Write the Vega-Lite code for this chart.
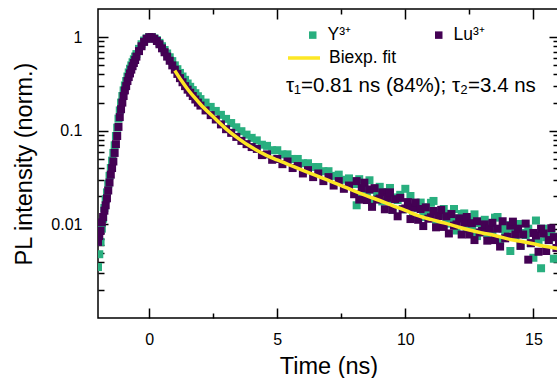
{
"$schema": "https://vega.github.io/schema/vega-lite/v6.json",
"width": 461,
"height": 309,
"padding": {"left": 12, "top": 8, "right": 0, "bottom": 0},
"background": "white",
"datasets": {
"pts": [
{"t":-2,"s":"Y³⁺","v":0.0035},{"t":-1.95,"s":"Y³⁺","v":0.0048},{"t":-1.9,"s":"Y³⁺","v":0.0065},{"t":-1.85,"s":"Y³⁺","v":0.009},{"t":-1.8,"s":"Y³⁺","v":0.0115},{"t":-1.75,"s":"Y³⁺","v":0.015},{"t":-1.7,"s":"Y³⁺","v":0.0185},{"t":-1.65,"s":"Y³⁺","v":0.022},{"t":-1.6,"s":"Y³⁺","v":0.027},{"t":-1.55,"s":"Y³⁺","v":0.033},{"t":-1.5,"s":"Y³⁺","v":0.04},{"t":-1.45,"s":"Y³⁺","v":0.048},{"t":-1.4,"s":"Y³⁺","v":0.058},{"t":-1.35,"s":"Y³⁺","v":0.07},{"t":-1.3,"s":"Y³⁺","v":0.088},{"t":-1.25,"s":"Y³⁺","v":0.108},{"t":-1.2,"s":"Y³⁺","v":0.135},{"t":-1.15,"s":"Y³⁺","v":0.165},{"t":-1.1,"s":"Y³⁺","v":0.2},{"t":-1.05,"s":"Y³⁺","v":0.235},{"t":-1,"s":"Y³⁺","v":0.27},{"t":-0.95,"s":"Y³⁺","v":0.305},{"t":-0.9,"s":"Y³⁺","v":0.34},{"t":-0.85,"s":"Y³⁺","v":0.38},{"t":-0.8,"s":"Y³⁺","v":0.42},{"t":-0.75,"s":"Y³⁺","v":0.46},{"t":-0.7,"s":"Y³⁺","v":0.5},{"t":-0.65,"s":"Y³⁺","v":0.54},{"t":-0.6,"s":"Y³⁺","v":0.58},{"t":-0.55,"s":"Y³⁺","v":0.62},{"t":-0.5,"s":"Y³⁺","v":0.66},
{"t":-0.4,"s":"Y³⁺","v":0.75},{"t":-0.3,"s":"Y³⁺","v":0.84},{"t":-0.2,"s":"Y³⁺","v":0.92},{"t":-0.1,"s":"Y³⁺","v":0.97},{"t":0,"s":"Y³⁺","v":1},{"t":0.1,"s":"Y³⁺","v":1},{"t":0.2,"s":"Y³⁺","v":0.97},{"t":0.3,"s":"Y³⁺","v":0.93},{"t":0.4,"s":"Y³⁺","v":0.87},{"t":0.5,"s":"Y³⁺","v":0.8},{"t":0.6,"s":"Y³⁺","v":0.73},{"t":0.7,"s":"Y³⁺","v":0.67},{"t":0.8,"s":"Y³⁺","v":0.61},{"t":0.9,"s":"Y³⁺","v":0.555},{"t":1,"s":"Y³⁺","v":0.5},{"t":1.1,"s":"Y³⁺","v":0.455},{"t":1.2,"s":"Y³⁺","v":0.415},{"t":1.3,"s":"Y³⁺","v":0.38},{"t":1.4,"s":"Y³⁺","v":0.35},{"t":1.5,"s":"Y³⁺","v":0.32},{"t":1.6,"s":"Y³⁺","v":0.295},{"t":1.7,"s":"Y³⁺","v":0.272},{"t":1.8,"s":"Y³⁺","v":0.252},{"t":1.9,"s":"Y³⁺","v":0.234},{"t":2,"s":"Y³⁺","v":0.218},
{"t":2.2,"s":"Y³⁺","v":0.2},{"t":2.4,"s":"Y³⁺","v":0.18},{"t":2.6,"s":"Y³⁺","v":0.163},{"t":2.8,"s":"Y³⁺","v":0.148},{"t":3,"s":"Y³⁺","v":0.134},{"t":3.2,"s":"Y³⁺","v":0.121},{"t":3.4,"s":"Y³⁺","v":0.109},{"t":3.6,"s":"Y³⁺","v":0.099},{"t":3.8,"s":"Y³⁺","v":0.091},{"t":4,"s":"Y³⁺","v":0.084},{"t":4.2,"s":"Y³⁺","v":0.079},{"t":4.4,"s":"Y³⁺","v":0.071},{"t":4.6,"s":"Y³⁺","v":0.069},{"t":4.8,"s":"Y³⁺","v":0.062},{"t":5,"s":"Y³⁺","v":0.062},{"t":5.2,"s":"Y³⁺","v":0.056},{"t":5.4,"s":"Y³⁺","v":0.056},{"t":5.6,"s":"Y³⁺","v":0.05},{"t":5.8,"s":"Y³⁺","v":0.05},{"t":6,"s":"Y³⁺","v":0.045},{"t":6.2,"s":"Y³⁺","v":0.045},{"t":6.4,"s":"Y³⁺","v":0.041},{"t":6.6,"s":"Y³⁺","v":0.041},{"t":6.8,"s":"Y³⁺","v":0.037},{"t":7,"s":"Y³⁺","v":0.037},{"t":7.2,"s":"Y³⁺","v":0.033},{"t":7.4,"s":"Y³⁺","v":0.034},{"t":7.6,"s":"Y³⁺","v":0.03},{"t":7.8,"s":"Y³⁺","v":0.031},{"t":8,"s":"Y³⁺","v":0.027},
{"t":8.1,"s":"Y³⁺","v":0.016},{"t":8.2,"s":"Y³⁺","v":0.0304},{"t":8.3,"s":"Y³⁺","v":0.0212},{"t":8.4,"s":"Y³⁺","v":0.0269},{"t":8.5,"s":"Y³⁺","v":0.0222},{"t":8.6,"s":"Y³⁺","v":0.0296},{"t":8.7,"s":"Y³⁺","v":0.0173},{"t":8.8,"s":"Y³⁺","v":0.0235},{"t":8.9,"s":"Y³⁺","v":0.0221},{"t":9,"s":"Y³⁺","v":0.0252},{"t":9.1,"s":"Y³⁺","v":0.0176},{"t":9.2,"s":"Y³⁺","v":0.0222},{"t":9.3,"s":"Y³⁺","v":0.0184},{"t":9.4,"s":"Y³⁺","v":0.0245},{"t":9.5,"s":"Y³⁺","v":0.0143},{"t":9.6,"s":"Y³⁺","v":0.0194},{"t":9.7,"s":"Y³⁺","v":0.0182},{"t":9.8,"s":"Y³⁺","v":0.0207},{"t":9.9,"s":"Y³⁺","v":0.0145},{"t":10,"s":"Y³⁺","v":0.024},
{"t":10.1,"s":"Y³⁺","v":0.0152},{"t":10.2,"s":"Y³⁺","v":0.0201},{"t":10.3,"s":"Y³⁺","v":0.0118},{"t":10.4,"s":"Y³⁺","v":0.0159},{"t":10.5,"s":"Y³⁺","v":0.0149},{"t":10.6,"s":"Y³⁺","v":0.0171},{"t":10.7,"s":"Y³⁺","v":0.012},{"t":10.8,"s":"Y³⁺","v":0.0152},{"t":10.9,"s":"Y³⁺","v":0.0127},{"t":11,"s":"Y³⁺","v":0.017},{"t":11.1,"s":"Y³⁺","v":0.0178},{"t":11.2,"s":"Y³⁺","v":0.0098},{"t":11.3,"s":"Y³⁺","v":0.0134},{"t":11.4,"s":"Y³⁺","v":0.0127},{"t":11.5,"s":"Y³⁺","v":0.0146},{"t":11.6,"s":"Y³⁺","v":0.0102},{"t":11.7,"s":"Y³⁺","v":0.013},{"t":11.8,"s":"Y³⁺","v":0.0109},{"t":11.9,"s":"Y³⁺","v":0.0146},{"t":12,"s":"Y³⁺","v":0.0086},
{"t":12.1,"s":"Y³⁺","v":0.0116},{"t":12.2,"s":"Y³⁺","v":0.0129},{"t":12.3,"s":"Y³⁺","v":0.0131},{"t":12.4,"s":"Y³⁺","v":0.0089},{"t":12.5,"s":"Y³⁺","v":0.0113},{"t":12.6,"s":"Y³⁺","v":0.0095},{"t":12.7,"s":"Y³⁺","v":0.0128},{"t":12.8,"s":"Y³⁺","v":0.0075},{"t":12.9,"s":"Y³⁺","v":0.0103},{"t":13,"s":"Y³⁺","v":0.0097},{"t":13.1,"s":"Y³⁺","v":0.0112},{"t":13.2,"s":"Y³⁺","v":0.0079},{"t":13.3,"s":"Y³⁺","v":0.0101},{"t":13.4,"s":"Y³⁺","v":0.0085},{"t":13.5,"s":"Y³⁺","v":0.0118},{"t":13.6,"s":"Y³⁺","v":0.012},{"t":13.7,"s":"Y³⁺","v":0.0066},{"t":13.8,"s":"Y³⁺","v":0.009},{"t":13.9,"s":"Y³⁺","v":0.0085},{"t":14,"s":"Y³⁺","v":0.0098},
{"t":14.1,"s":"Y³⁺","v":0.0052},{"t":14.2,"s":"Y³⁺","v":0.009},{"t":14.3,"s":"Y³⁺","v":0.0075},{"t":14.4,"s":"Y³⁺","v":0.0101},{"t":14.5,"s":"Y³⁺","v":0.0059},{"t":14.6,"s":"Y³⁺","v":0.0081},{"t":14.7,"s":"Y³⁺","v":0.0077},{"t":14.8,"s":"Y³⁺","v":0.009},{"t":14.9,"s":"Y³⁺","v":0.0063},{"t":15,"s":"Y³⁺","v":0.0044},{"t":15.1,"s":"Y³⁺","v":0.011},{"t":15.2,"s":"Y³⁺","v":0.0066},{"t":15.3,"s":"Y³⁺","v":0.0034},{"t":15.4,"s":"Y³⁺","v":0.009},{"t":15.5,"s":"Y³⁺","v":0.0073},{"t":15.6,"s":"Y³⁺","v":0.0068},{"t":15.7,"s":"Y³⁺","v":0.008},{"t":15.8,"s":"Y³⁺","v":0.0043},{"t":15.9,"s":"Y³⁺","v":0.0073},{"t":16,"s":"Y³⁺","v":0.0061},
{"t":-2,"s":"Lu³⁺","v":0.0065},{"t":-1.95,"s":"Lu³⁺","v":0.0075},{"t":-1.9,"s":"Lu³⁺","v":0.0085},{"t":-1.85,"s":"Lu³⁺","v":0.0105},{"t":-1.8,"s":"Lu³⁺","v":0.012},{"t":-1.75,"s":"Lu³⁺","v":0.014},{"t":-1.7,"s":"Lu³⁺","v":0.016},{"t":-1.65,"s":"Lu³⁺","v":0.019},{"t":-1.6,"s":"Lu³⁺","v":0.023},{"t":-1.55,"s":"Lu³⁺","v":0.028},{"t":-1.5,"s":"Lu³⁺","v":0.034},{"t":-1.45,"s":"Lu³⁺","v":0.04},{"t":-1.4,"s":"Lu³⁺","v":0.047},{"t":-1.35,"s":"Lu³⁺","v":0.058},{"t":-1.3,"s":"Lu³⁺","v":0.072},{"t":-1.25,"s":"Lu³⁺","v":0.088},{"t":-1.2,"s":"Lu³⁺","v":0.11},{"t":-1.15,"s":"Lu³⁺","v":0.14},{"t":-1.1,"s":"Lu³⁺","v":0.17},{"t":-1.05,"s":"Lu³⁺","v":0.2},{"t":-1,"s":"Lu³⁺","v":0.235},{"t":-0.95,"s":"Lu³⁺","v":0.27},{"t":-0.9,"s":"Lu³⁺","v":0.3},{"t":-0.85,"s":"Lu³⁺","v":0.34},{"t":-0.8,"s":"Lu³⁺","v":0.375},{"t":-0.75,"s":"Lu³⁺","v":0.41},{"t":-0.7,"s":"Lu³⁺","v":0.45},{"t":-0.65,"s":"Lu³⁺","v":0.49},{"t":-0.6,"s":"Lu³⁺","v":0.53},{"t":-0.55,"s":"Lu³⁺","v":0.57},{"t":-0.5,"s":"Lu³⁺","v":0.62},
{"t":-0.4,"s":"Lu³⁺","v":0.71},{"t":-0.3,"s":"Lu³⁺","v":0.8},{"t":-0.2,"s":"Lu³⁺","v":0.89},{"t":-0.1,"s":"Lu³⁺","v":0.96},{"t":0,"s":"Lu³⁺","v":1},{"t":0.1,"s":"Lu³⁺","v":1},{"t":0.2,"s":"Lu³⁺","v":0.96},{"t":0.3,"s":"Lu³⁺","v":0.91},{"t":0.4,"s":"Lu³⁺","v":0.84},{"t":0.5,"s":"Lu³⁺","v":0.76},{"t":0.6,"s":"Lu³⁺","v":0.69},{"t":0.7,"s":"Lu³⁺","v":0.62},{"t":0.8,"s":"Lu³⁺","v":0.56},{"t":0.9,"s":"Lu³⁺","v":0.5},{"t":1,"s":"Lu³⁺","v":0.45},{"t":1.1,"s":"Lu³⁺","v":0.405},{"t":1.2,"s":"Lu³⁺","v":0.365},{"t":1.3,"s":"Lu³⁺","v":0.33},{"t":1.4,"s":"Lu³⁺","v":0.3},{"t":1.5,"s":"Lu³⁺","v":0.275},{"t":1.6,"s":"Lu³⁺","v":0.255},{"t":1.7,"s":"Lu³⁺","v":0.235},{"t":1.8,"s":"Lu³⁺","v":0.216},{"t":1.9,"s":"Lu³⁺","v":0.2},{"t":2,"s":"Lu³⁺","v":0.186},
{"t":2.2,"s":"Lu³⁺","v":0.165},{"t":2.4,"s":"Lu³⁺","v":0.147},{"t":2.6,"s":"Lu³⁺","v":0.132},{"t":2.8,"s":"Lu³⁺","v":0.117},{"t":3,"s":"Lu³⁺","v":0.104},{"t":3.2,"s":"Lu³⁺","v":0.095},{"t":3.4,"s":"Lu³⁺","v":0.086},{"t":3.6,"s":"Lu³⁺","v":0.078},{"t":3.8,"s":"Lu³⁺","v":0.072},{"t":4,"s":"Lu³⁺","v":0.067},{"t":4.2,"s":"Lu³⁺","v":0.064},{"t":4.4,"s":"Lu³⁺","v":0.055},{"t":4.6,"s":"Lu³⁺","v":0.056},{"t":4.8,"s":"Lu³⁺","v":0.049},{"t":5,"s":"Lu³⁺","v":0.05},{"t":5.2,"s":"Lu³⁺","v":0.044},{"t":5.4,"s":"Lu³⁺","v":0.047},{"t":5.6,"s":"Lu³⁺","v":0.04},{"t":5.8,"s":"Lu³⁺","v":0.042},{"t":6,"s":"Lu³⁺","v":0.035},{"t":6.2,"s":"Lu³⁺","v":0.038},{"t":6.4,"s":"Lu³⁺","v":0.032},{"t":6.6,"s":"Lu³⁺","v":0.035},{"t":6.8,"s":"Lu³⁺","v":0.029},{"t":7,"s":"Lu³⁺","v":0.032},{"t":7.2,"s":"Lu³⁺","v":0.026},{"t":7.4,"s":"Lu³⁺","v":0.029},{"t":7.6,"s":"Lu³⁺","v":0.024},{"t":7.8,"s":"Lu³⁺","v":0.026},{"t":8,"s":"Lu³⁺","v":0.021},
{"t":8.1,"s":"Lu³⁺","v":0.029},{"t":8.2,"s":"Lu³⁺","v":0.0184},{"t":8.3,"s":"Lu³⁺","v":0.0244},{"t":8.4,"s":"Lu³⁺","v":0.0279},{"t":8.5,"s":"Lu³⁺","v":0.0182},{"t":8.6,"s":"Lu³⁺","v":0.0236},{"t":8.7,"s":"Lu³⁺","v":0.0154},{"t":8.8,"s":"Lu³⁺","v":0.0244},{"t":8.9,"s":"Lu³⁺","v":0.0184},{"t":9,"s":"Lu³⁺","v":0.0189},{"t":9.1,"s":"Lu³⁺","v":0.022},{"t":9.2,"s":"Lu³⁺","v":0.0145},{"t":9.3,"s":"Lu³⁺","v":0.0192},{"t":9.4,"s":"Lu³⁺","v":0.022},{"t":9.5,"s":"Lu³⁺","v":0.0143},{"t":9.6,"s":"Lu³⁺","v":0.0186},{"t":9.7,"s":"Lu³⁺","v":0.0122},{"t":9.8,"s":"Lu³⁺","v":0.0192},{"t":9.9,"s":"Lu³⁺","v":0.0145},{"t":10,"s":"Lu³⁺","v":0.0148},
{"t":10.1,"s":"Lu³⁺","v":0.0173},{"t":10.2,"s":"Lu³⁺","v":0.0114},{"t":10.3,"s":"Lu³⁺","v":0.0151},{"t":10.4,"s":"Lu³⁺","v":0.0171},{"t":10.5,"s":"Lu³⁺","v":0.0112},{"t":10.6,"s":"Lu³⁺","v":0.0146},{"t":10.7,"s":"Lu³⁺","v":0.0096},{"t":10.8,"s":"Lu³⁺","v":0.0152},{"t":10.9,"s":"Lu³⁺","v":0.0115},{"t":11,"s":"Lu³⁺","v":0.0119},{"t":11.1,"s":"Lu³⁺","v":0.0139},{"t":11.2,"s":"Lu³⁺","v":0.0093},{"t":11.3,"s":"Lu³⁺","v":0.0123},{"t":11.4,"s":"Lu³⁺","v":0.0143},{"t":11.5,"s":"Lu³⁺","v":0.0094},{"t":11.6,"s":"Lu³⁺","v":0.0122},{"t":11.7,"s":"Lu³⁺","v":0.008},{"t":11.8,"s":"Lu³⁺","v":0.0129},{"t":11.9,"s":"Lu³⁺","v":0.0097},{"t":12,"s":"Lu³⁺","v":0.01},
{"t":12.1,"s":"Lu³⁺","v":0.0116},{"t":12.2,"s":"Lu³⁺","v":0.0078},{"t":12.3,"s":"Lu³⁺","v":0.0104},{"t":12.4,"s":"Lu³⁺","v":0.012},{"t":12.5,"s":"Lu³⁺","v":0.0078},{"t":12.6,"s":"Lu³⁺","v":0.0103},{"t":12.7,"s":"Lu³⁺","v":0.0068},{"t":12.8,"s":"Lu³⁺","v":0.0108},{"t":12.9,"s":"Lu³⁺","v":0.0082},{"t":13,"s":"Lu³⁺","v":0.0085},{"t":13.1,"s":"Lu³⁺","v":0.01},{"t":13.2,"s":"Lu³⁺","v":0.0067},{"t":13.3,"s":"Lu³⁺","v":0.009},{"t":13.4,"s":"Lu³⁺","v":0.0104},{"t":13.5,"s":"Lu³⁺","v":0.0068},{"t":13.6,"s":"Lu³⁺","v":0.009},{"t":13.7,"s":"Lu³⁺","v":0.0058},{"t":13.8,"s":"Lu³⁺","v":0.0108},{"t":13.9,"s":"Lu³⁺","v":0.0071},{"t":14,"s":"Lu³⁺","v":0.0074},
{"t":14.1,"s":"Lu³⁺","v":0.0097},{"t":14.2,"s":"Lu³⁺","v":0.0107},{"t":14.3,"s":"Lu³⁺","v":0.0078},{"t":14.4,"s":"Lu³⁺","v":0.009},{"t":14.5,"s":"Lu³⁺","v":0.0059},{"t":14.6,"s":"Lu³⁺","v":0.0078},{"t":14.7,"s":"Lu³⁺","v":0.0102},{"t":14.8,"s":"Lu³⁺","v":0.0042},{"t":14.9,"s":"Lu³⁺","v":0.0063},{"t":15,"s":"Lu³⁺","v":0.0081},{"t":15.1,"s":"Lu³⁺","v":0.0076},{"t":15.2,"s":"Lu³⁺","v":0.0051},{"t":15.3,"s":"Lu³⁺","v":0.009},{"t":15.4,"s":"Lu³⁺","v":0.008},{"t":15.5,"s":"Lu³⁺","v":0.0052},{"t":15.6,"s":"Lu³⁺","v":0.0068},{"t":15.7,"s":"Lu³⁺","v":0.0091},{"t":15.8,"s":"Lu³⁺","v":0.0073},{"t":15.9,"s":"Lu³⁺","v":0.0056},{"t":16,"s":"Lu³⁺","v":0.0061}
],
"fit": [
{"t":1,"v":0.44},{"t":1.25,"v":0.346},{"t":1.5,"v":0.278},{"t":1.75,"v":0.23},{"t":2,"v":0.192},{"t":2.5,"v":0.141},{"t":3,"v":0.105},{"t":3.5,"v":0.082},{"t":4,"v":0.0665},{"t":4.5,"v":0.056},{"t":5,"v":0.0488},{"t":5.5,"v":0.0429},{"t":6,"v":0.0378},{"t":6.5,"v":0.0334},{"t":7,"v":0.0295},{"t":7.5,"v":0.026},{"t":8,"v":0.0228},{"t":8.5,"v":0.0202},{"t":9,"v":0.018},{"t":9.5,"v":0.0159},{"t":10,"v":0.0141},{"t":10.5,"v":0.0124},{"t":11,"v":0.0113},{"t":11.5,"v":0.0104},{"t":12,"v":0.0095},{"t":12.5,"v":0.0087},{"t":13,"v":0.0081},{"t":13.5,"v":0.0076},{"t":14,"v":0.007},{"t":14.5,"v":0.0066},{"t":15,"v":0.0062},{"t":15.5,"v":0.0058},{"t":16,"v":0.0055}
]
},
"layer": [
{
"data": {"name": "pts"},
"mark": {"type": "square", "size": 64, "opacity": 1, "clip": true},
"encoding": {
"x": {"field": "t", "type": "quantitative", "scale": {"domain": [-2, 16], "nice": false, "zero": false},
"axis": {"orient": "bottom", "values": [0, 5, 10, 15], "tickSize": -10, "labelPadding": 23, "title": "Time (ns)", "titlePadding": 7}},
"y": {"field": "v", "type": "quantitative", "scale": {"type": "log", "domain": [0.001, 2], "nice": false},
"axis": {"orient": "left", "values": [0.01, 0.1, 1], "format": "~g", "tickSize": -10, "labelPadding": 26, "title": "PL intensity (norm.)", "titlePadding": 14}},
"color": {"field": "s", "type": "nominal", "scale": {"domain": ["Y³⁺", "Lu³⁺"], "range": ["#29AF7F", "#440154"]},
"legend": {"orient": "none", "legendX": 206, "legendY": 17, "columns": 2, "columnPadding": 79, "title": null, "symbolType": "square", "symbolSize": 56, "labelFontSize": 17.5, "labelOffset": 6}}
}
},
{
"data": {"name": "fit"},
"mark": {"type": "line", "color": "#FDE725", "strokeWidth": 3.5, "interpolate": "monotone", "clip": true},
"encoding": {
"x": {"field": "t", "type": "quantitative", "scale": {"domain": [-2, 16], "nice": false, "zero": false},
"axis": {"orient": "bottom", "values": [2.5, 7.5, 12.5], "tickSize": -5, "labels": false, "title": null}},
"y": {"field": "v", "type": "quantitative", "scale": {"type": "log", "domain": [0.001, 2], "nice": false},
"axis": {"orient": "left", "values": [0.002,0.003,0.004,0.005,0.006,0.007,0.008,0.009,0.02,0.03,0.04,0.05,0.06,0.07,0.08,0.09,0.2,0.3,0.4,0.5,0.6,0.7,0.8,0.9], "tickSize": -6, "labels": false, "title": null}},
"stroke": {"datum": "Biexp. fit", "scale": {"range": ["#FDE725"]},
"legend": {"orient": "none", "legendX": 188, "legendY": 31, "title": "τ₁=0.81 ns (84%); τ₂=3.4 ns", "titleOrient": "bottom", "titleAnchor": "start", "titleFontSize": 20.5, "titleFontWeight": "normal", "titlePadding": 9, "titleLimit": 500, "symbolType": "stroke", "symbolSize": 1024, "symbolStrokeWidth": 3.5, "labelFontSize": 17.5, "labelOffset": 7}}
}
},
{
"data": {"name": "fit"},
"mark": {"type": "point", "opacity": 0},
"encoding": {
"x": {"field": "t", "type": "quantitative", "scale": {"domain": [-2, 16], "nice": false, "zero": false},
"axis": {"orient": "top", "values": [0, 5, 10, 15], "tickSize": -10, "labels": false, "title": null}},
"y": {"field": "v", "type": "quantitative", "scale": {"type": "log", "domain": [0.001, 2], "nice": false},
"axis": {"orient": "right", "values": [0.01, 0.1, 1], "tickSize": -10, "labels": false, "title": null}}
}
},
{
"data": {"name": "fit"},
"mark": {"type": "point", "opacity": 0},
"encoding": {
"x": {"field": "t", "type": "quantitative", "scale": {"domain": [-2, 16], "nice": false, "zero": false},
"axis": {"orient": "top", "values": [2.5, 7.5, 12.5], "tickSize": -5, "labels": false, "title": null}},
"y": {"field": "v", "type": "quantitative", "scale": {"type": "log", "domain": [0.001, 2], "nice": false},
"axis": {"orient": "right", "values": [0.002,0.003,0.004,0.005,0.006,0.007,0.008,0.009,0.02,0.03,0.04,0.05,0.06,0.07,0.08,0.09,0.2,0.3,0.4,0.5,0.6,0.7,0.8,0.9], "tickSize": -6, "labels": false, "title": null}}
}
}
],
"resolve": {"axis": {"x": "independent", "y": "independent"}},
"config": {
"font": "Liberation Sans",
"view": {"stroke": "black", "strokeWidth": 1.5},
"axis": {"domain": false, "grid": false, "labelFont": "Liberation Sans", "titleFont": "Liberation Sans", "labelFontSize": 16, "titleFontSize": 23.5, "titleFontWeight": "normal", "labelColor": "black", "titleColor": "black", "tickColor": "black", "tickWidth": 1.5},
"legend": {"labelFont": "Liberation Sans", "titleFont": "Liberation Sans", "labelColor": "black", "titleColor": "black", "padding": 0}
}
}
